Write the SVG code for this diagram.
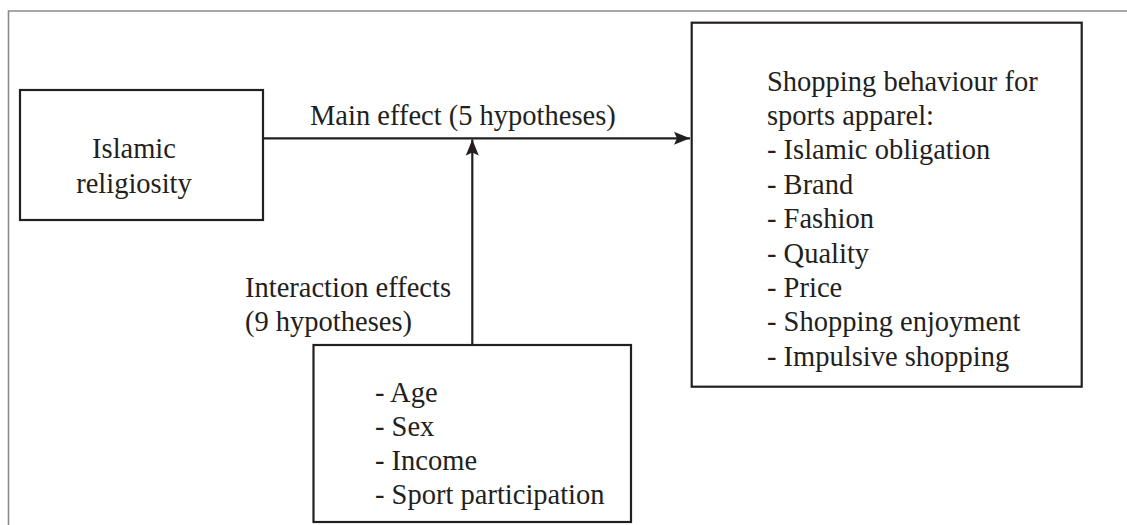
<svg xmlns="http://www.w3.org/2000/svg" width="1127" height="525" viewBox="0 0 1127 525">
  <defs>
    <marker id="arrow" markerUnits="userSpaceOnUse" markerWidth="17" markerHeight="14" refX="16" refY="6.5" orient="auto">
      <path d="M0,0 L16,6.5 L0,13 L3,6.5 Z" fill="#231f20"/>
    </marker>
    <style>
      .box { fill: #ffffff; stroke: #231f20; stroke-width: 2.2; }
      .frame { fill: none; stroke: #8a8a8a; stroke-width: 1.6; }
      .conn { fill: none; stroke: #231f20; stroke-width: 2.2; }
      text { font-family: "Liberation Serif", "Times New Roman", serif; font-size: 28.5px; fill: #231f20; }
    </style>
  </defs>
  <rect width="1127" height="525" fill="#ffffff"/>
  <path class="frame" d="M8.5,525 L8.5,11 L1127,11"/>

  <g id="node-religiosity">
    <rect class="box" x="20" y="90" width="243" height="130"/>
    <text x="134" y="158" text-anchor="middle">Islamic</text>
    <text x="134" y="193" text-anchor="middle">religiosity</text>
  </g>

  <g id="node-shopping">
    <rect class="box" x="691.7" y="22.7" width="390" height="364"/>
    <text x="767" y="90.5">Shopping behaviour for</text>
    <text x="767" y="125">sports apparel:</text>
    <text x="767" y="159.3">- Islamic obligation</text>
    <text x="767" y="193.7">- Brand</text>
    <text x="767" y="228">- Fashion</text>
    <text x="767" y="262.5">- Quality</text>
    <text x="767" y="297">- Price</text>
    <text x="767" y="331.4">- Shopping enjoyment</text>
    <text x="767" y="365.8">- Impulsive shopping</text>
  </g>

  <g id="node-moderators">
    <rect class="box" x="313.5" y="345" width="317.5" height="177"/>
    <text x="375" y="401.7">- Age</text>
    <text x="375" y="435.7">- Sex</text>
    <text x="375" y="469.7">- Income</text>
    <text x="375" y="503.7">- Sport participation</text>
  </g>

  <g id="connectors">
    <line class="conn" x1="263" y1="138.3" x2="690" y2="138.3" marker-end="url(#arrow)"/>
    <line class="conn" x1="472.3" y1="345" x2="472.3" y2="139.5" marker-end="url(#arrow)"/>
    <text x="310" y="125">Main effect (5 hypotheses)</text>
    <text x="245" y="297">Interaction effects</text>
    <text x="245" y="331">(9 hypotheses)</text>
  </g>
</svg>
